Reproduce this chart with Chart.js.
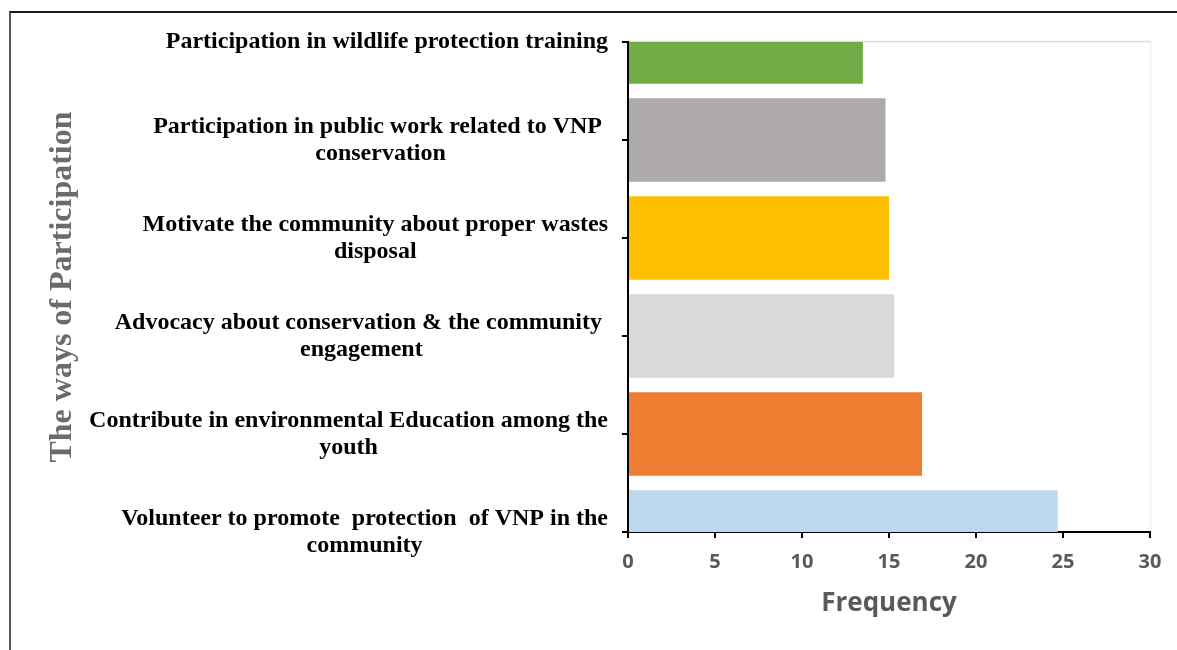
<!DOCTYPE html>
<html>
<head>
<meta charset="utf-8">
<script src="https://cdn.jsdelivr.net/npm/chart.js@4.4.1/dist/chart.umd.min.js"></script>
<style>
  body { margin: 0; background: #fff; }
  #wrap { position: relative; width: 1177px; height: 650px; }
  #frame { position: absolute; left: 9px; top: 11px; right: 0; bottom: 0;
           border-top: 2px solid #1a1a1a; border-left: 2px solid #595959; }
</style>
</head>
<body>
<div id="wrap">
  <div id="frame"></div>
  <canvas id="barChart"></canvas>
</div>
<script>
// categories, top to bottom
const ways = [
    ['Participation in wildlife protection training'],
    ['Participation in public work related to VNP ', 'conservation'],
    ['Motivate the community about proper wastes', 'disposal'],
    ['Advocacy about conservation & the community ', 'engagement'],
    ['Contribute in environmental Education among the', 'youth'],
    ['Volunteer to promote  protection  of VNP in the', 'community']
];
const frequency = [13.5, 14.8, 15.0, 15.3, 16.9, 24.7];
const barColors = ['#70AD47', '#AEAAAA', '#FFC000', '#D9D9D9', '#ED7D31', '#BDD7EE'];
const xTicks = [0, 5, 10, 15, 20, 25, 30];

// y labels: block right aligned, lines centered inside block (like Excel)
const labelPlugin = {
    id: 'labelPlugin',
    beforeDraw(chart) {
        const { ctx, chartArea } = chart;
        ctx.save();
        ctx.strokeStyle = '#cfdcea';
        ctx.lineWidth = 1.5;
        ctx.beginPath();
        ctx.moveTo(chartArea.left, chartArea.top - 0.5);
        ctx.lineTo(chartArea.right + 1, chartArea.top - 0.5);
        ctx.stroke();
        ctx.strokeStyle = '#ededed';
        ctx.lineWidth = 1;
        ctx.beginPath();
        ctx.moveTo(chartArea.right + 1, chartArea.top);
        ctx.lineTo(chartArea.right + 1, chartArea.bottom);
        ctx.stroke();
        ctx.restore();
    },
    afterDraw(chart) {
        const { ctx, chartArea } = chart;
        const yScale = chart.scales.y;
        const rightEdge = chartArea.left - 20;
        const lineH = 27;
        ctx.save();
        ctx.font = 'bold 24px "Liberation Serif", "Times New Roman", serif';
        ctx.fillStyle = '#000';
        ctx.textAlign = 'center';
        ctx.textBaseline = 'middle';
        ways.forEach((lines, i) => {
            const yc = yScale.getPixelForTick(i);
            const w = Math.max(...lines.map(l => ctx.measureText(l).width));
            const xc = rightEdge - w / 2;
            const y0 = yc - (lines.length - 1) * lineH / 2;
            lines.forEach((l, j) => ctx.fillText(l, xc, y0 + j * lineH));
        });
        ctx.restore();
    }
};

const ctx = document.getElementById('barChart').getContext('2d');
new Chart(ctx, {
    type: 'bar',
    data: {
        labels: ways.map(l => l.join(' ')),
        datasets: [{
            data: frequency,
            backgroundColor: barColors,
            borderWidth: 0,
            categoryPercentage: 0.85,
            barPercentage: 1,
            clip: 0,
        }],
    },
    options: {
        indexAxis: 'y',
        responsive: true,
        maintainAspectRatio: false,
        animation: false,
        layout: { padding: { left: 20, top: 42, right: 27, bottom: 0 } },
        plugins: { legend: { display: false }, tooltip: { enabled: false } },
        scales: {
            x: {
                min: 0,
                max: 30,
                afterBuildTicks: (scale) => { scale.ticks = xTicks.map(v => ({ value: v })); },
                afterFit: (scale) => { scale.height = 118; },
                grid: { drawOnChartArea: false, color: '#000', lineWidth: 2, tickLength: 6 },
                border: { color: '#000', width: 2 },
                ticks: {
                    color: '#595959',
                    padding: 12,
                    font: { family: '"Open Sans", sans-serif', size: 20, weight: 'bold' },
                },
                title: {
                    display: true,
                    text: 'Frequency',
                    color: '#595959',
                    padding: { bottom: 31 },
                    font: { family: '"Open Sans", sans-serif', size: 26, weight: 'bold' },
                },
            },
            y: {
                offset: false,
                afterFit: (scale) => { scale.width = 608; },
                grid: { offset: false, drawOnChartArea: false, color: '#000', lineWidth: 2, tickLength: 6 },
                border: { color: '#000', width: 2 },
                ticks: { display: false },
                title: {
                    display: true,
                    text: 'The ways of Participation',
                    color: '#6b6b6b',
                    padding: { top: 24 },
                    font: { family: '"Liberation Serif", serif', size: 32, weight: 'bold' },
                },
            },
        },
    },
    plugins: [labelPlugin],
});
</script>
</body>
</html>
